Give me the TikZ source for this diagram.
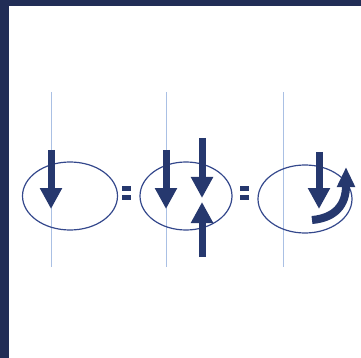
\documentclass[tikz,border=0pt]{standalone}
\usetikzlibrary{arrows.meta}
\definecolor{navy}{RGB}{33,45,86}
\definecolor{arrowblue}{RGB}{38,56,110}
\definecolor{cellblue}{RGB}{52,72,140}
\definecolor{axisblue}{RGB}{170,192,228}
\tikzset{
  bigarrow/.style={arrowblue, line width=7pt, -{Triangle[width=21pt,length=21pt]}},
  bentarrow/.style={arrowblue, line width=8pt, -{Triangle[width=17pt,length=20pt]}},
  cell/.style={cellblue, line width=1.2pt},
}
\begin{document}
\begin{tikzpicture}[x=1pt,y=-1pt]
\useasboundingbox (0,0) rectangle (361,358);
% frame
\fill[navy] (0,0) rectangle (9,358);
\fill[navy] (0,0) rectangle (361,6);
% axes
\foreach \x in {51,166,283} {
  \draw[axisblue, line width=0.9pt] (\x,92) -- (\x,267);
}
% cells
\draw[cell] (70,196) ellipse (47.5 and 34);
\draw[cell] (186,196) ellipse (46 and 34);
\draw[cell] (305,199) ellipse (47 and 34);
% equals signs
\foreach \x in {122,240} {
  \fill[arrowblue] (\x,186) rectangle (\x+9,191);
  \fill[arrowblue] (\x,195) rectangle (\x+9,200);
}
% arrows
\draw[bigarrow] (51,150) -- (51,209);
\draw[bigarrow] (166,150) -- (166,209);
\draw[bigarrow] (202,138) -- (202,198);
\draw[bigarrow] (202,257) -- (202,202);
\draw[bigarrow] (319,152) -- (319,209);
\draw[bentarrow] (312,220) .. controls (335,218) and (346,205) .. (346,167);
\end{tikzpicture}
\end{document}
